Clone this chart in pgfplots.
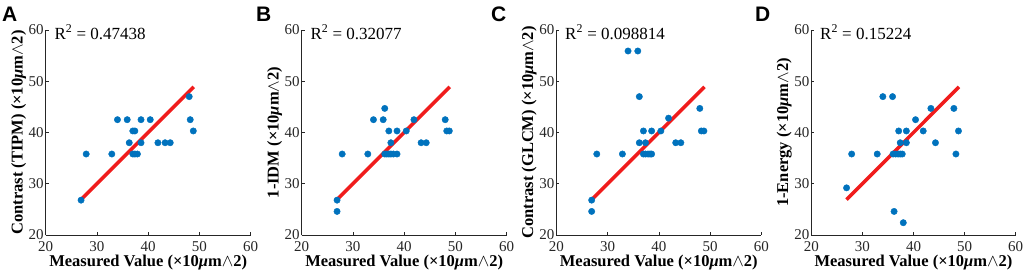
\documentclass[border=0pt]{standalone}
\usepackage{fontspec}
\setmainfont{Liberation Serif}
\newfontfamily\sansfont{Liberation Sans}
\usepackage{pgfplots}
\pgfplotsset{compat=1.18}
\definecolor{axgray}{RGB}{38,38,38}
\definecolor{mblue}{RGB}{0,114,189}
\definecolor{fitred}{RGB}{240,28,28}
\pgfplotsset{
  panel/.style={
    width=205pt, height=205pt, scale only axis,
    xmin=20, xmax=60, ymin=20, ymax=60,
    xtick={20,30,40,50,60}, ytick={20,30,40,50,60},
    axis x line*=bottom, axis y line*=left,
    axis line style={draw=axgray, line width=0.7pt, -},
    tick align=inside, major tick length=3pt,
    tick style={draw=axgray, line width=0.6pt},
    /pgf/number format/assume math mode=true,
    tick label style={font=\fontsize{15}{15}\selectfont, text=axgray},
    yticklabel style={xshift=1.5pt},
    xticklabel style={yshift=-3pt},
    label style={font=\fontsize{16.5}{16.5}\bfseries, text=black},
    xlabel={Measured Value (×10\textit{μ}m$\wedge$2)},
    xlabel style={at={(axis description cs:0.5,-0.132)}, anchor=center},
    ylabel style={at={(axis description cs:-0.132,0.5)}, anchor=center},
    clip=false,
  },
  pts/.style={only marks, mark=*, mark size=3.2pt, mark options={fill=mblue, draw=mblue}},
  fit/.style={no marks, draw=fitred, line width=3.5pt},
}
\newcommand{\rsq}[1]{\node[anchor=west, font=\fontsize{17}{17}\selectfont, inner sep=0pt] at (axis cs:21.7,59.6) {R\textsuperscript{2} = #1};}
\begin{document}
\begin{tikzpicture}[x=1pt,y=1pt]
\useasboundingbox (0,0) rectangle (1024,275);
% A
\begin{axis}[panel, at={(45.7pt,40pt)}, anchor=origin, ylabel={Contrast (TIPM) (×10\textit{μ}m$\wedge$2)}]
\addplot[pts] coordinates {(26.9,26.8) (27.9,35.8) (32.9,35.8) (34.0,42.5) (35.9,42.5) (36.3,38.0) (37.0,40.3) (37.4,40.3) (37.0,35.8) (37.4,35.8) (37.9,35.8) (38.6,42.5) (38.6,38.0) (40.4,42.5) (41.9,38.0) (43.3,38.0) (44.3,38.0) (48.0,47.0) (48.2,42.5) (48.8,40.3)};
\addplot[fit] coordinates {(26.9,26.9) (48.9,48.9)};
\rsq{0.47438}
\end{axis}
% B
\begin{axis}[panel, at={(301.7pt,40pt)}, anchor=origin, ylabel={1-IDM (×10\textit{μ}m$\wedge$2)}]
\addplot[pts] coordinates {(26.9,26.8) (26.9,24.6) (27.9,35.8) (32.9,35.8) (34.0,42.5) (35.9,42.5) (36.2,44.7) (37.0,40.3) (38.6,40.3) (37.4,38.0) (36.2,35.8) (36.6,35.8) (37.0,35.8) (37.4,35.8) (37.9,35.8) (38.6,35.8) (40.4,40.3) (41.9,42.5) (43.3,38.0) (44.3,38.0) (48.0,42.5) (48.3,40.3) (48.8,40.3)};
\addplot[fit] coordinates {(26.9,26.9) (48.9,48.9)};
\rsq{0.32077}
\end{axis}
% C
\begin{axis}[panel, at={(556.3pt,40pt)}, anchor=origin, ylabel={Contrast (GLCM) (×10\textit{μ}m$\wedge$2)}]
\addplot[pts] coordinates {(26.9,26.8) (26.9,24.6) (27.9,35.8) (32.9,35.8) (34.0,55.9) (35.9,55.9) (36.2,47.0) (36.2,38.0) (37.0,40.3) (38.6,40.3) (37.4,38.0) (37.0,35.8) (37.4,35.8) (37.9,35.8) (38.3,35.8) (38.6,35.8) (40.4,40.3) (41.9,42.8) (43.3,38.0) (44.3,38.0) (48.0,44.7) (48.3,40.3) (48.8,40.3)};
\addplot[fit] coordinates {(26.9,26.9) (48.9,48.9)};
\rsq{0.098814}
\end{axis}
% D
\begin{axis}[panel, width=204.4pt, at={(811.3pt,40pt)}, anchor=origin, ylabel={1-Energy (×10\textit{μ}m$\wedge$2)}]
\addplot[pts] coordinates {(26.9,29.2) (27.9,35.8) (32.9,35.8) (34.0,47.0) (35.9,47.0) (36.2,24.6) (38.0,22.4) (37.1,40.3) (38.6,40.3) (37.4,38.0) (38.6,38.0) (36.0,35.8) (36.5,35.8) (37.0,35.8) (37.4,35.8) (37.8,35.8) (40.4,42.5) (41.9,40.3) (43.4,44.7) (44.3,38.0) (47.9,44.7) (48.3,35.8) (48.8,40.3)};
\addplot[fit] coordinates {(26.9,26.9) (48.9,48.9)};
\rsq{0.15224}
\end{axis}
% panel letters
\node[anchor=north west, inner sep=0pt, font=\sansfont\bfseries\fontsize{21}{21}\selectfont] at (2,268) {A};
\node[anchor=north west, inner sep=0pt, font=\sansfont\bfseries\fontsize{21}{21}\selectfont] at (256,268) {B};
\node[anchor=north west, inner sep=0pt, font=\sansfont\bfseries\fontsize{21}{21}\selectfont] at (491,268) {C};
\node[anchor=north west, inner sep=0pt, font=\sansfont\bfseries\fontsize{21}{21}\selectfont] at (755,268) {D};
\end{tikzpicture}
\end{document}
